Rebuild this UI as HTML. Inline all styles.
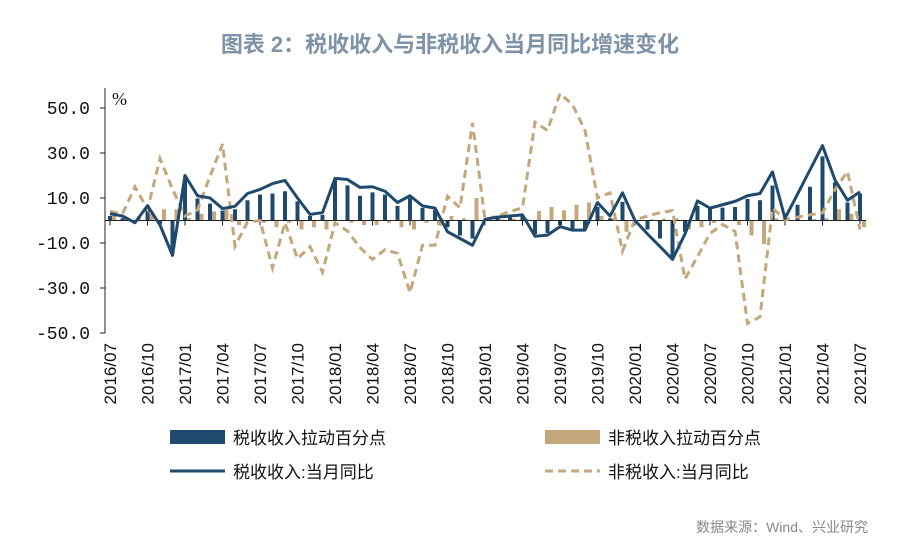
<!DOCTYPE html>
<html><head><meta charset="utf-8"><style>
body{margin:0;background:#fff;width:900px;height:548px;overflow:hidden;font-family:"Liberation Sans","Noto Sans CJK SC",sans-serif}
</style></head><body>
<svg id="chart" width="900" height="548" xmlns="http://www.w3.org/2000/svg" font-family="Liberation Sans, Noto Sans CJK SC, sans-serif">
<text x="450" y="52" text-anchor="middle" font-size="22" font-weight="bold" fill="#7f93a8">图表 2：税收收入与非税收入当月同比增速变化</text>
<text x="112" y="105" font-size="18" fill="#111" font-family="Liberation Serif, serif">%</text>
<g id="plot"></g>
<g font-size="17" fill="#111">
<rect x="170" y="430" width="55" height="14" fill="#1f4a6e"/>
<text x="233" y="444">税收收入拉动百分点</text>
<rect x="545" y="430" width="55" height="14" fill="#c4a77d"/>
<text x="608" y="444">非税收入拉动百分点</text>
<line x1="170" y1="471" x2="225" y2="471" stroke="#1f4a6e" stroke-width="3"/>
<text x="233" y="478">税收收入:当月同比</text>
<line x1="545" y1="471" x2="600" y2="471" stroke="#c4a77d" stroke-width="3" stroke-dasharray="8,5"/>
<text x="608" y="478">非税收入:当月同比</text>
</g>
<text x="868" y="532" text-anchor="end" font-size="14" fill="#888">数据来源：Wind、兴业研究</text>
</svg>
<script>
const months=["2016/07","2016/08","2016/09","2016/10","2016/11","2016/12","2017/01","2017/02","2017/03","2017/04","2017/05","2017/06","2017/07","2017/08","2017/09","2017/10","2017/11","2017/12","2018/01","2018/02","2018/03","2018/04","2018/05","2018/06","2018/07","2018/08","2018/09","2018/10","2018/11","2018/12","2019/01","2019/02","2019/03","2019/04","2019/05","2019/06","2019/07","2019/08","2019/09","2019/10","2019/11","2019/12","2020/01","2020/02","2020/03","2020/04","2020/05","2020/06","2020/07","2020/08","2020/09","2020/10","2020/11","2020/12","2021/01","2021/02","2021/03","2021/04","2021/05","2021/06","2021/07"];
const taxYoY=[3,2,-1,6.6,-2,-15.5,20,11,10,5.3,6.3,12,13.8,16.4,17.8,10,2.7,3.5,18.7,18.2,14.7,15,13,8,11,6.5,5.5,-5,-8,-11,0.5,1.5,2,2.5,-7,-6.5,-2.7,-4.3,-4.3,8,2,12.3,0,-6,-11.6,-17.3,-6,8.7,5.5,7,8.5,11,12,21.6,1,11.7,22.5,33.3,18,9,12.7];
const nonTaxYoY=[4,3,15,5,27.5,14,2,4.7,19.6,34,-11.4,-0.7,0,-21,-1,-17,-11.6,-23,-1,-4.7,-12,-17.3,-13,-14.6,-32,-11,-11,10.8,5.6,43.4,0.4,2,4,5.6,43.7,40,56.4,51.5,40,10,12.3,-13.6,0.4,2,3.5,4.4,-26,-16,-5.8,-1.8,-4.8,-45.8,-42.8,5.6,0.4,1.5,2.5,3.4,13.8,21.8,-4];
const taxPull=[2,1,-0.5,5,-1.5,-14,19,9.8,7.5,4.4,5,9,11.5,12,13,8.5,2,2.5,18,15.6,11,12.5,11.5,6.5,10,5.6,4.6,-3,-6.7,-8,0.3,1,1.5,1.8,-6,-5.5,-2,-4.7,-4,6,1,8.3,0,-4,-8,-17,-5,6.5,5.7,5.7,6,9.6,9,15.5,0.5,7,15,28.5,17,8,12];
const nonTaxPull=[2,1,2,3,5,5,1,3,4,5,-2,0,-1,-3,-1,-4,-3,-4,0,-1,-2,-2,-1,-3,-4,-1,-2,2,1,10,0,0.5,0.8,1,4.2,6,4.5,7,8,2,1,-5,0,0.5,0.8,1,-4,-3,-1,0,-2,-6.7,-10.5,1,0,0.3,0.6,1,5,3,-3];
const yTicks=[50,30,10,-10,-30,-50];
const NS="http://www.w3.org/2000/svg";
const plot=document.getElementById('plot');
const x=i=>110+12.5*i;
const y=v=>220.5-v*2.25;
function mk(tag,attrs){const e=document.createElementNS(NS,tag);for(const k in attrs)e.setAttribute(k,attrs[k]);plot.appendChild(e);return e;}
let ax=mk('line',{x1:105,y1:88,x2:105,y2:y(-50),stroke:'#222','stroke-width':1});


yTicks.forEach(v=>{
 const t=mk('line',{x1:100,y1:y(v),x2:105,y2:y(v),stroke:'#222'});
 
 
 const l=mk('text',{x:90,y:y(v)+6,'text-anchor':'end','font-size':18,fill:'#111','font-family':'Liberation Mono, monospace'});
 l.textContent=v.toFixed(1);
 
 
});
months.forEach((m,i)=>{
 const v=taxPull[i];
 const b=mk('rect',{x:x(i)-2,y:Math.min(y(v),y(0)),width:4,height:Math.abs(y(v)-y(0)),fill:'#1f4a6e'});
 
 
 const w=nonTaxPull[i];
 const c=mk('rect',{x:x(i)+2,y:Math.min(y(w),y(0)),width:4,height:Math.abs(y(w)-y(0)),fill:'#c4a77d'});
 
 
});
let xa=mk('line',{x1:105,y1:y(0),x2:866,y2:y(0),stroke:'#222','stroke-width':1});


months.forEach((m,i)=>{
 if(i%3!==0)return;
 const t=mk('line',{x1:x(i),y1:y(0),x2:x(i),y2:y(0)+5,stroke:'#222'});
 
 
 const l=mk('text',{x:0,y:0,'text-anchor':'end','font-size':17,fill:'#111',transform:`translate(${x(i)+6},343) rotate(-90)`});
 l.textContent=m;
 
 
});
const p1=mk('polyline',{points:nonTaxYoY.map((v,i)=>x(i)+','+y(v)).join(' '),fill:'none',stroke:'#c4a77d','stroke-width':3,'stroke-dasharray':'8,5'});


const p2=mk('polyline',{points:taxYoY.map((v,i)=>x(i)+','+y(v)).join(' '),fill:'none',stroke:'#1f4a6e','stroke-width':3,'stroke-linejoin':'round'});


</script>
</body></html>
